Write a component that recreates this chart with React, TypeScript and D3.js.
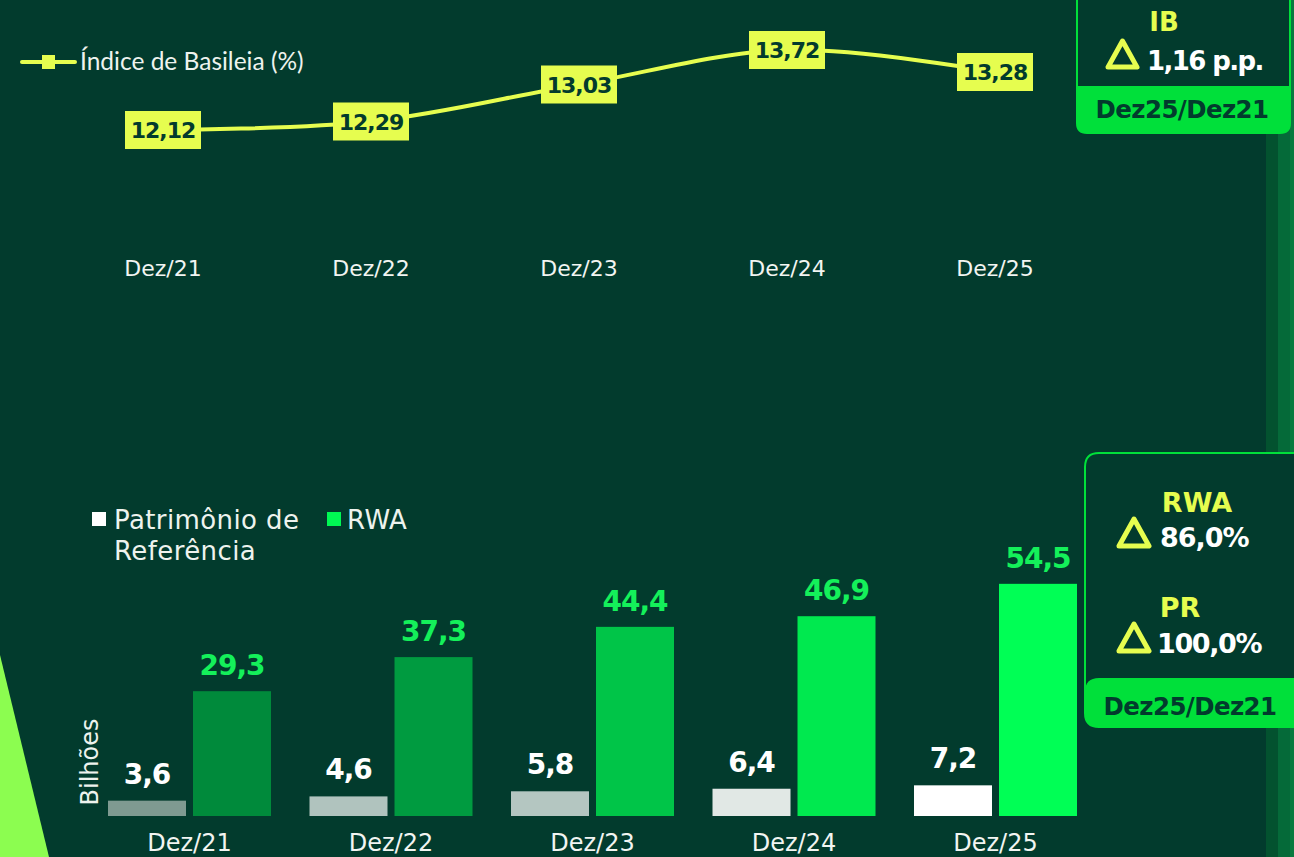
import React from "react";
import * as d3 from "d3";

const categories = ["Dez/21", "Dez/22", "Dez/23", "Dez/24", "Dez/25"];
const basileia = [12.12, 12.29, 13.03, 13.72, 13.28];
const patrimonio = [3.6, 4.6, 5.8, 6.4, 7.2];
const rwa = [29.3, 37.3, 44.4, 46.9, 54.5];
const prColors = ["#7f9a91", "#b0c3be", "#b4c6c1", "#e1e8e5", "#ffffff"];
const rwaColors = ["#008a3b", "#009b40", "#00c548", "#00e94f", "#00ff55"];

const BG = "#023b2d";
const YEL = "#e6fd4f";
const GREEN = "#00e03a";
const MONT = "'DejaVu Sans', 'Noto Sans', sans-serif";
const CAL = "Lato, 'Open Sans', sans-serif";

const fmt = (v: number, d: number) => v.toFixed(d).replace(".", ",");

function Delta({ x, y, s }: { x: number; y: number; s: number }) {
  const h = s * 0.9;
  return (
    <path
      d={`M${x + s / 2},${y} L${x + s},${y + h} L${x},${y + h} Z`}
      fill="none"
      stroke={YEL}
      strokeWidth={5}
      strokeLinejoin="round"
    />
  );
}

export default function App() {
  // line chart scales
  const xTop = d3.scalePoint<string>().domain(categories).range([163, 995]);
  const yTop = d3.scaleLinear().domain([10, 15]).range([236, -14]);
  const line = d3
    .line<number>()
    .x((_, i) => xTop(categories[i]) as number)
    .y((d) => yTop(d))
    .curve(d3.curveCatmullRom.alpha(0.5));

  // bar chart scales
  const xBot = d3.scaleBand<string>().domain(categories).range([88.75, 1096.25]);
  const xSub = d3
    .scaleBand<string>()
    .domain(["PR", "RWA"])
    .range([19.25, 182.25])
    .paddingInner(0.0824);
  const yBot = d3.scaleLinear().domain([0, 60]).range([816, 560.4]);

  const labelW = (t: string) => t.length * 13.6 + 8;

  return (
    <svg
      width={1294}
      height={857}
      style={{ position: "absolute", left: 0, top: 0, display: "block" }}
    >
      <rect x={0} y={0} width={1294} height={857} fill={BG} />
      {/* right stripes */}
      <rect x={1266} y={0} width={12} height={857} fill="#03522f" />
      <rect x={1278} y={0} width={12} height={857} fill="#056a39" />
      <rect x={1290} y={0} width={4} height={857} fill="#087a3f" />
      {/* left triangle */}
      <path d="M0,655 L49,857 L0,857 Z" fill="#8cfd50" />

      {/* top legend */}
      <line x1={22} x2={75} y1={62} y2={62} stroke={YEL} strokeWidth={4} strokeLinecap="round" />
      <rect x={42} y={55} width={13} height={14} fill={YEL} />
      <text x={80} y={70} fill="#eef3ee" fontFamily={CAL} fontSize={24.5}>
        Índice de Basileia (%)
      </text>

      {/* line */}
      <path d={line(basileia) || ""} fill="none" stroke={YEL} strokeWidth={4} />
      {basileia.map((v, i) => {
        const cx = xTop(categories[i]) as number;
        const cy = yTop(v);
        const t = fmt(v, 2);
        const w = labelW(t);
        return (
          <g key={i}>
            <rect x={cx - w / 2} y={cy - 19} width={w} height={38} fill={YEL} />
            <text
              x={cx}
              y={cy + 8}
              textAnchor="middle"
              fill={BG}
              fontFamily={MONT}
              fontWeight={700}
              fontSize={22}
              letterSpacing={-1}
            >
              {t}
            </text>
          </g>
        );
      })}
      {categories.map((c) => (
        <text
          key={c}
          x={xTop(c) as number}
          y={276}
          textAnchor="middle"
          fill="#f2f5f2"
          fontFamily={MONT}
          fontSize={22}
        >
          {c}
        </text>
      ))}

      {/* IB box */}
      <path
        d="M1077,-4 L1077,123 Q1077,133 1087,133 L1280,133 Q1290,133 1290,123 L1290,-4"
        fill={BG}
        stroke={GREEN}
        strokeWidth={2}
      />
      <path
        d="M1077,86 L1290,86 L1290,123 Q1290,133 1280,133 L1087,133 Q1077,133 1077,123 Z"
        fill={GREEN}
      />
      <text x={1164} y={31} textAnchor="middle" fill={YEL} fontFamily={MONT} fontWeight={700} fontSize={26}>
        IB
      </text>
      <Delta x={1108} y={41} s={29} />
      <text x={1147} y={70} fill="#ffffff" fontFamily={MONT} fontWeight={700} fontSize={26} letterSpacing={-1.6}>
        1,16 p.p.
      </text>
      <text x={1182} y={118} textAnchor="middle" fill={BG} fontFamily={MONT} fontWeight={700} fontSize={24.5} letterSpacing={-0.6}>
        Dez25/Dez21
      </text>

      {/* bottom legend */}
      <rect x={92} y={512} width={14} height={14} fill="#ffffff" />
      <text fill="#eef3ee" fontFamily={MONT} fontSize={26} letterSpacing={0.4}>
        <tspan x={114} y={529}>Patrimônio de</tspan>
        <tspan x={114} y={560}>Referência</tspan>
      </text>
      <rect x={327} y={512} width={14} height={14} fill="#00f853" />
      <text x={347} y={529} fill="#eef3ee" fontFamily={MONT} fontSize={26} letterSpacing={0.4}>
        RWA
      </text>

      {/* y label */}
      <text
        transform="translate(98,762) rotate(-90)"
        textAnchor="middle"
        fill="#eef3ee"
        fontFamily={MONT}
        fontSize={24}
      >
        Bilhões
      </text>

      {/* bars */}
      {categories.map((c, i) => {
        const x0 = xBot(c) as number;
        const xp = x0 + (xSub("PR") as number);
        const xr = x0 + (xSub("RWA") as number);
        const bw = xSub.bandwidth();
        return (
          <g key={c}>
            <rect x={xp} y={yBot(patrimonio[i])} width={bw} height={816 - yBot(patrimonio[i])} fill={prColors[i]} />
            <rect x={xr} y={yBot(rwa[i])} width={bw} height={816 - yBot(rwa[i])} fill={rwaColors[i]} />
            <text
              x={xp + bw / 2}
              y={yBot(patrimonio[i]) - 17}
              textAnchor="middle"
              fill="#ffffff"
              fontFamily={MONT}
              fontWeight={700}
              fontSize={28}
              letterSpacing={-1}
            >
              {fmt(patrimonio[i], 1)}
            </text>
            <text
              x={xr + bw / 2}
              y={yBot(rwa[i]) - 16}
              textAnchor="middle"
              fill="#14f05a"
              fontFamily={MONT}
              fontWeight={700}
              fontSize={28}
              letterSpacing={-1}
            >
              {fmt(rwa[i], 1)}
            </text>
            <text
              x={x0 + xBot.bandwidth() / 2}
              y={851}
              textAnchor="middle"
              fill="#f2f5f2"
              fontFamily={MONT}
              fontSize={24}
            >
              {c}
            </text>
          </g>
        );
      })}

      {/* RWA/PR box */}
      <path
        d="M1300,453 L1099,453 Q1085,453 1085,467 L1085,713 Q1085,727 1099,727 L1300,727"
        fill={BG}
        stroke={GREEN}
        strokeWidth={2}
      />
      <path
        d="M1300,678 L1099,678 Q1085,678 1085,692 L1085,713 Q1085,727 1099,727 L1300,727 Z"
        fill={GREEN}
      />
      <text x={1197} y={512} textAnchor="middle" fill={YEL} fontFamily={MONT} fontWeight={700} fontSize={27}>
        RWA
      </text>
      <Delta x={1119} y={519} s={30} />
      <text x={1160} y={547} fill="#ffffff" fontFamily={MONT} fontWeight={700} fontSize={27} letterSpacing={-1}>
        86,0%
      </text>
      <text x={1180} y={617} textAnchor="middle" fill={YEL} fontFamily={MONT} fontWeight={700} fontSize={27}>
        PR
      </text>
      <Delta x={1119} y={624} s={30} />
      <text x={1157} y={653} fill="#ffffff" fontFamily={MONT} fontWeight={700} fontSize={27} letterSpacing={-1.4}>
        100,0%
      </text>
      <text x={1190} y={715} textAnchor="middle" fill={BG} fontFamily={MONT} fontWeight={700} fontSize={24.5} letterSpacing={-0.6}>
        Dez25/Dez21
      </text>
    </svg>
  );
}
